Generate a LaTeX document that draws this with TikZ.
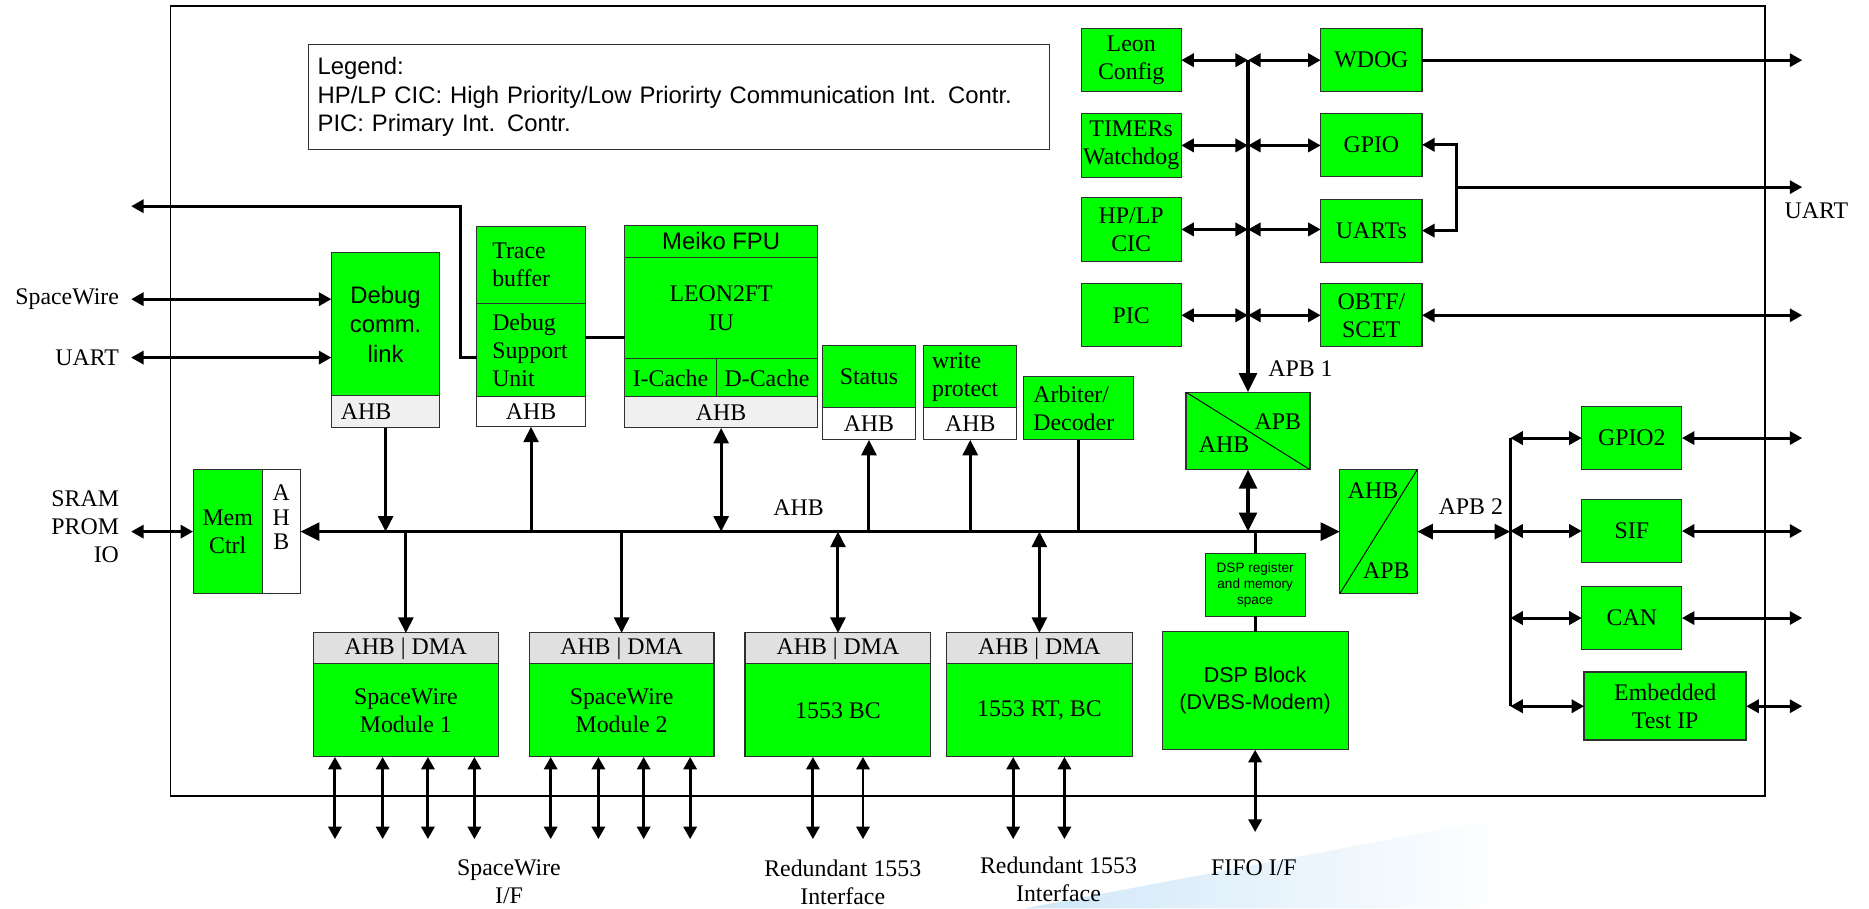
\documentclass[tikz,border=0pt]{standalone}
\usepackage{fontspec}
\setmainfont{Liberation Serif}
\setsansfont{Liberation Sans}
\usetikzlibrary{arrows.meta}
\definecolor{grn}{HTML}{00FF00}
\definecolor{bd}{HTML}{303030}
\definecolor{hdrg}{HTML}{E0E0E0}
\definecolor{ahbg}{HTML}{F0F0F0}
\definecolor{swoosh}{HTML}{CFE7F8}
\newcommand\mkbox[7]{\node[#6, anchor=north west, minimum width={(#4-#2)*1pt}, minimum height={(#5-#3)*1pt}] (#1) at (#2,#3) {#7};}
\begin{document}
\begin{tikzpicture}[x=1pt,y=-1pt,
  blk/.style={draw=bd, fill=grn, line width=0.9pt, inner sep=0pt, outer sep=0pt, font=\fontsize{20}{23.5}\selectfont, align=center},
  sblk/.style={blk, font=\sffamily\fontsize{20}{24.5}\selectfont},
  hdrA/.style={blk, fill=hdrg},
  hdrB/.style={blk, fill=ahbg},
  wht/.style={blk, fill=white},
  frm/.style={draw=black, line width=1.4pt, inner sep=0pt, outer sep=0pt},
  lbl/.style={font=\fontsize{20}{23.6}\selectfont, inner sep=0pt, align=center},
  legend/.style={draw=bd, line width=1pt, fill=white, inner ysep=0pt, inner xsep=8pt, text width=606pt, align=left, font=\sffamily\fontsize{20}{24}\selectfont},
  a1/.style={line width=2.5pt, >={Triangle[length=10.5pt,width=11pt]}},
  a2/.style={line width=2.5pt, >={Triangle[length=13pt,width=12.5pt]}},
  a3/.style={line width=2.6pt, >={Triangle[length=16pt,width=15pt]}}
]
\useasboundingbox (0,0) rectangle (1568,762);
% background swoosh
\shade[left color=swoosh, right color=white] (860,762) -- (1262,686) -- (1268,762) -- cycle;
% frame and legend
\mkbox{frame}{143}{5}{1481}{668}{frm}{}
\node[legend, anchor=north west, minimum width=622pt, minimum height=88pt] (legend) at (258,37) {Legend:\\HP/LP CIC: High Priority/Low Priorirty Communication Int. Contr.\\PIC: Primary Int. Contr.};
% outer coordinates
\coordinate (rx) at (1512,0);
\coordinate (lx) at (110,0);
% APB1 peripherals
\mkbox{leon}{907}{24}{991}{77}{blk}{Leon\\Config}
\mkbox{timers}{907}{95}{991}{149}{blk}{TIMERs\\Watchdog}
\mkbox{hplp}{907}{166}{991}{219}{blk}{HP/LP\\CIC}
\mkbox{pic}{907}{238}{991}{291}{blk}{PIC}
\mkbox{wdog}{1108}{24}{1193}{77}{blk}{WDOG}
\mkbox{gpio}{1108}{95}{1193}{148}{blk}{GPIO}
\mkbox{uarts}{1108}{167}{1193}{220}{blk}{UARTs}
\mkbox{obtf}{1108}{238}{1193}{291}{blk}{OBTF/\\SCET}
% bridge 1
\mkbox{brA}{995}{329}{1099}{394}{blk}{}
\draw[line width=0.8pt] (brA.north west) -- (brA.south east);
\node[lbl] (brAapb) at (1072,354) {APB};
\node[lbl] (brAahb) at (1027,373) {AHB};
\draw[a3,->] (leon.east -| brA.north) -- (brA.north);
\foreach \l/\r in {leon/wdog,timers/gpio,hplp/uarts,pic/obtf}{
  \draw[a1,<->] (\l.east) -- (\l.east -| brA.north);
  \draw[a1,<->] (\l.east -| brA.north) -- (\l.east -| \r.west);
}
\node[lbl] (apb1l) at (1091,309) {APB 1};
\draw[a1,->] (wdog.east) -- (wdog.east -| rx);
\coordinate (gj) at (1222,157);
\draw[a1,<->] (gpio.east) -- (gpio.east -| gj) -- (uarts.east -| gj) -- (uarts.east);
\draw[a1,->] (gj) -- (gj -| rx);
\node[lbl, anchor=west] (uartR) at (1497,177) {UART};
\draw[a1,<->] (obtf.east) -- (obtf.east -| rx);
% memory controller and AHB bus
\mkbox{mem}{162}{394}{220}{498}{blk}{Mem\\Ctrl}
\mkbox{memahb}{220}{394}{252}{498}{wht}{}
\node[lbl, font=\fontsize{20}{20.6}\selectfont] (ahbv) at (236,434) {A\\H\\B};
\mkbox{brB}{1124}{394}{1189}{498}{blk}{}
\draw[line width=0.8pt] (brB.south west) -- (brB.north east);
\node[lbl] (brBahb) at (1152,412) {AHB};
\node[lbl] (brBapb) at (1163,479) {APB};
\draw[a3,<->] (memahb.east) -- (brB.west);
\node[lbl] (ahbl) at (670,426) {AHB};
\node[lbl, anchor=east, align=right] (sram) at (100,442) {SRAM\\PROM\\IO};
\draw[a1,<->] (mem.west -| lx) -- (mem.west);
% debug comm link
\mkbox{dcl}{278}{212}{369}{332}{sblk}{Debug\\comm.\\link}
\mkbox{dclahb}{278}{332}{369}{359}{hdrB, align=left, text width=75pt, inner xsep=8pt}{AHB}
\node[lbl, anchor=east] (swl) at (100,251) {SpaceWire};
\node[lbl, anchor=east] (uartL) at (100,300) {UART};
\draw[a1,<->] (swl.east -| lx) -- (swl.east -| dcl.west);
\draw[a1,<->] (uartL.east -| lx) -- (uartL.east -| dcl.west);
% trace buffer / DSU
\mkbox{trace}{400}{190}{491}{255}{blk, align=left, text width=65pt, inner xsep=13pt}{Trace\\buffer}
\mkbox{dsu}{400}{255}{491}{333}{blk, align=left, text width=65pt, inner xsep=13pt}{Debug\\Support\\Unit}
\mkbox{dsuahb}{400}{333}{491}{358}{wht}{AHB}
\coordinate (dj1) at (386,300);
\coordinate (dj2) at (386,173);
\draw[a1,->] (dsu.west |- dj1) -- (dj1) -- (dj2) -- (dj2 -| lx);
% LEON
\mkbox{fpu}{524}{189}{686}{216}{sblk}{Meiko FPU}
\mkbox{iu}{524}{216}{686}{301}{blk, font=\fontsize{20}{24.6}\selectfont}{LEON2FT\\IU}
\mkbox{icache}{524}{301}{601}{333}{blk}{I-Cache}
\mkbox{dcache}{601}{301}{686}{333}{blk}{D-Cache}
\mkbox{leonahb}{524}{333}{686}{359}{hdrB}{AHB}
\coordinate (dl) at (0,283);
\draw[line width=2.5pt] (dsu.east |- dl) -- (iu.west |- dl);
% status, write protect, arbiter
\mkbox{status}{690}{290}{768}{342}{blk}{Status}
\mkbox{statahb}{690}{342}{768}{369}{wht}{AHB}
\mkbox{wp}{775}{290}{853}{342}{blk, align=left, text width=64pt, inner xsep=7pt}{write\\protect}
\mkbox{wpahb}{775}{342}{853}{369}{wht}{AHB}
\mkbox{arb}{859}{316}{951}{369}{blk, align=left, text width=76pt, inner xsep=8pt}{Arbiter/\\Decoder}
% taps on AHB
\draw[a2,->] (dclahb.south) -- (dclahb.south |- memahb.east);
\draw[a2,->] (dsuahb.south |- memahb.east) -- (dsuahb.south);
\draw[a2,<->] (leonahb.south) -- (leonahb.south |- memahb.east);
\draw[a2,->] (statahb.south |- memahb.east) -- (statahb.south);
\draw[a2,->] (wpahb.south |- memahb.east) -- (wpahb.south);
\draw[a2] (arb.south) -- (arb.south |- memahb.east);
% bottom modules
\mkbox{swAh}{263}{531}{418}{557}{hdrA}{AHB | DMA}
\mkbox{swA}{263}{557}{418}{635}{blk}{SpaceWire\\Module 1}
\mkbox{swBh}{444}{531}{599}{557}{hdrA}{AHB | DMA}
\mkbox{swB}{444}{557}{599}{635}{blk}{SpaceWire\\Module 2}
\mkbox{bch}{625}{531}{781}{557}{hdrA}{AHB | DMA}
\mkbox{bc}{625}{557}{781}{635}{blk}{1553 BC}
\mkbox{rth}{794}{531}{950}{557}{hdrA}{AHB | DMA}
\mkbox{rt}{794}{557}{950}{635}{blk}{1553 RT, BC}
\draw[a2,->] (swAh.north |- memahb.east) -- (swAh.north);
\draw[a2,->] (swBh.north |- memahb.east) -- (swBh.north);
\draw[a2,<->] (bch.north |- memahb.east) -- (bch.north);
\draw[a2,<->] (rth.north |- memahb.east) -- (rth.north);
\coordinate (by) at (0,704);
\foreach \m/\dx in {swA/18,swA/58,swA/96,swA/135,swB/18,swB/58,swB/96,swB/135,bc/57,bc/99,rt/56,rt/99}{
  \path ([xshift=\dx pt]\m.south west) coordinate (t);
  \draw[a1,<->] (t) -- (t |- by);
}
\node[lbl] (swIF) at (427,740) {SpaceWire\\I/F};
\node[lbl] (r1) at (707,740) {Redundant 1553\\Interface};
\node[lbl] (r2) at (888,738) {Redundant 1553\\Interface};
% DSP
\mkbox{dspreg}{1011}{464}{1095}{517}{sblk, font=\sffamily\fontsize{11.4}{13.3}\selectfont}{DSP register\\and memory\\space}
\mkbox{dsp}{975}{530}{1131}{629}{sblk, font=\sffamily\fontsize{18}{22.4}\selectfont}{DSP Block\\(DVBS-Modem)}
\draw[a2] (dspreg.north |- memahb.east) -- (dspreg.north);
\draw[a2] (dspreg.south) -- (dspreg.south |- dsp.north);
\draw[a3,<->] (brA.south) -- (brA.south |- memahb.east);
\coordinate (fy) at (0,698);
\draw[a1,<->] (dsp.south) -- (dsp.south |- fy);
\node[lbl] (fifo) at (1052,728) {FIFO I/F};
% APB2
\coordinate (apb2x) at (1267,0);
\draw[a2,<->] (brB.east) -- (brB.east -| apb2x);
\node[lbl] (apb2l) at (1234,425) {APB 2};
\mkbox{gpio2}{1327}{341}{1411}{394}{blk}{GPIO2}
\mkbox{sif}{1327}{419}{1411}{472}{blk}{SIF}
\mkbox{can}{1327}{492}{1411}{545}{blk}{CAN}
\mkbox{emb}{1329}{564}{1465}{621}{blk, line width=1.8pt}{Embedded\\Test IP}
\draw[line width=2.5pt] (gpio2.west -| apb2x) -- (emb.west -| apb2x);
\foreach \b in {gpio2,sif,can,emb}{
  \draw[a1,<->] (\b.west -| apb2x) -- (\b.west);
  \draw[a1,<->] (\b.east) -- (\b.east -| rx);
}
\end{tikzpicture}
\end{document}
